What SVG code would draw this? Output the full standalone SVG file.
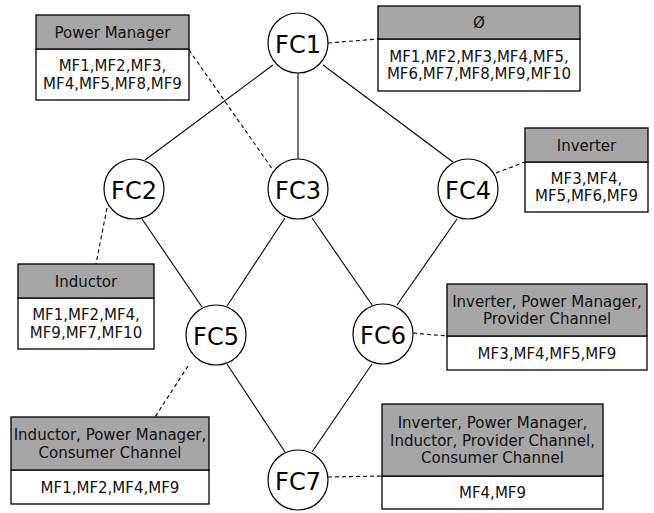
<svg xmlns="http://www.w3.org/2000/svg" width="654" height="513" viewBox="0 0 654 513">
<style>
.bg{fill:#ffffff}
.node circle{fill:#ffffff;stroke:#000;stroke-width:1.2}
.node text{font-family:"DejaVu Sans",Verdana,sans-serif;font-size:24px;text-anchor:middle;fill:#000}
.hd{fill:#a6a6a6;stroke:#000;stroke-width:1.3}
.bd{fill:#ffffff;stroke:#000;stroke-width:1.3}
.box text{font-family:"DejaVu Sans",Verdana,sans-serif;font-size:15px;text-anchor:middle;fill:#111}
.edge{stroke:#000;stroke-width:1.1;fill:none}
.dash{stroke:#000;stroke-width:1.1;fill:none;stroke-dasharray:4 3}
</style>
<rect class="bg" x="0" y="0" width="654" height="513"/>
<g id="connectors">
<line class="edge" x1="273" y1="65" x2="145" y2="160"/>
<line class="edge" x1="298" y1="73" x2="298" y2="159"/>
<line class="edge" x1="323" y1="65" x2="453" y2="162"/>
<line class="edge" x1="142" y1="219" x2="202" y2="307"/>
<line class="edge" x1="285" y1="218" x2="227" y2="306"/>
<line class="edge" x1="312" y1="218" x2="372" y2="305"/>
<line class="edge" x1="457" y1="219" x2="397" y2="305"/>
<line class="edge" x1="227" y1="364" x2="285" y2="452"/>
<line class="edge" x1="372" y1="364" x2="312" y2="452"/>
<line class="dash" x1="328" y1="43" x2="378" y2="39"/>
<line class="dash" x1="189" y1="50" x2="273" y2="170"/>
<line class="dash" x1="107" y1="208" x2="96" y2="264"/>
<line class="dash" x1="496" y1="173" x2="525" y2="162"/>
<line class="dash" x1="413" y1="333" x2="447" y2="336"/>
<line class="dash" x1="188" y1="366" x2="155" y2="417"/>
<line class="dash" x1="328" y1="477" x2="382" y2="476"/>
</g>
<g id="FC1" class="node"><circle cx="298" cy="43" r="30"/><text x="298" y="53">FC1</text></g>
<g id="FC2" class="node"><circle cx="134" cy="189" r="30"/><text x="134" y="199">FC2</text></g>
<g id="FC3" class="node"><circle cx="298" cy="189" r="30"/><text x="298" y="199">FC3</text></g>
<g id="FC4" class="node"><circle cx="468" cy="189" r="30"/><text x="468" y="199">FC4</text></g>
<g id="FC5" class="node"><circle cx="216" cy="335" r="30"/><text x="216" y="345">FC5</text></g>
<g id="FC6" class="node"><circle cx="383" cy="334" r="30"/><text x="383" y="344">FC6</text></g>
<g id="FC7" class="node"><circle cx="298" cy="480" r="30"/><text x="298" y="490">FC7</text></g>

<g id="box-fc1" class="box">
<rect class="bd" x="378" y="39" width="202" height="52"/>
<rect class="hd" x="378" y="6" width="202" height="33"/>
<text x="479" y="28">Ø</text>
<text x="479" y="61.6">MF1,MF2,MF3,MF4,MF5,</text>
<text x="479" y="79.3">MF6,MF7,MF8,MF9,MF10</text>
</g>
<g id="box-fc3" class="box">
<rect class="bd" x="36" y="49" width="153" height="51"/>
<rect class="hd" x="36" y="15" width="153" height="34"/>
<text x="112.5" y="37.5">Power Manager</text>
<text x="112.5" y="71">MF1,MF2,MF3,</text>
<text x="112.5" y="88.7">MF4,MF5,MF8,MF9</text>
</g>
<g id="box-fc4" class="box">
<rect class="bd" x="525" y="162" width="123" height="50"/>
<rect class="hd" x="525" y="128" width="123" height="34"/>
<text x="586.5" y="150.5">Inverter</text>
<text x="586.5" y="183.6">MF3,MF4,</text>
<text x="586.5" y="201.3">MF5,MF6,MF9</text>
</g>
<g id="box-fc2" class="box">
<rect class="bd" x="18" y="298" width="136" height="51"/>
<rect class="hd" x="18" y="264" width="136" height="34"/>
<text x="86" y="286.5">Inductor</text>
<text x="86" y="320.2">MF1,MF2,MF4,</text>
<text x="86" y="337.9">MF9,MF7,MF10</text>
</g>
<g id="box-fc6" class="box">
<rect class="bd" x="447" y="336" width="200" height="34"/>
<rect class="hd" x="447" y="284" width="200" height="52"/>
<text x="547" y="306.6">Inverter, Power Manager,</text>
<text x="547" y="324.3">Provider Channel</text>
<text x="547" y="358.5">MF3,MF4,MF5,MF9</text>
</g>
<g id="box-fc5" class="box">
<rect class="bd" x="11" y="470" width="198" height="34"/>
<rect class="hd" x="11" y="417" width="198" height="53"/>
<text x="110" y="440.2">Inductor, Power Manager,</text>
<text x="110" y="457.9">Consumer Channel</text>
<text x="110" y="492.5">MF1,MF2,MF4,MF9</text>
</g>
<g id="box-fc7" class="box">
<rect class="bd" x="382" y="476" width="221" height="33"/>
<rect class="hd" x="382" y="404" width="221" height="72"/>
<text x="492.5" y="427.8">Inverter, Power Manager,</text>
<text x="492.5" y="445.5">Inductor, Provider Channel,</text>
<text x="492.5" y="463.2">Consumer Channel</text>
<text x="492.5" y="498">MF4,MF9</text>
</g>
</svg>
